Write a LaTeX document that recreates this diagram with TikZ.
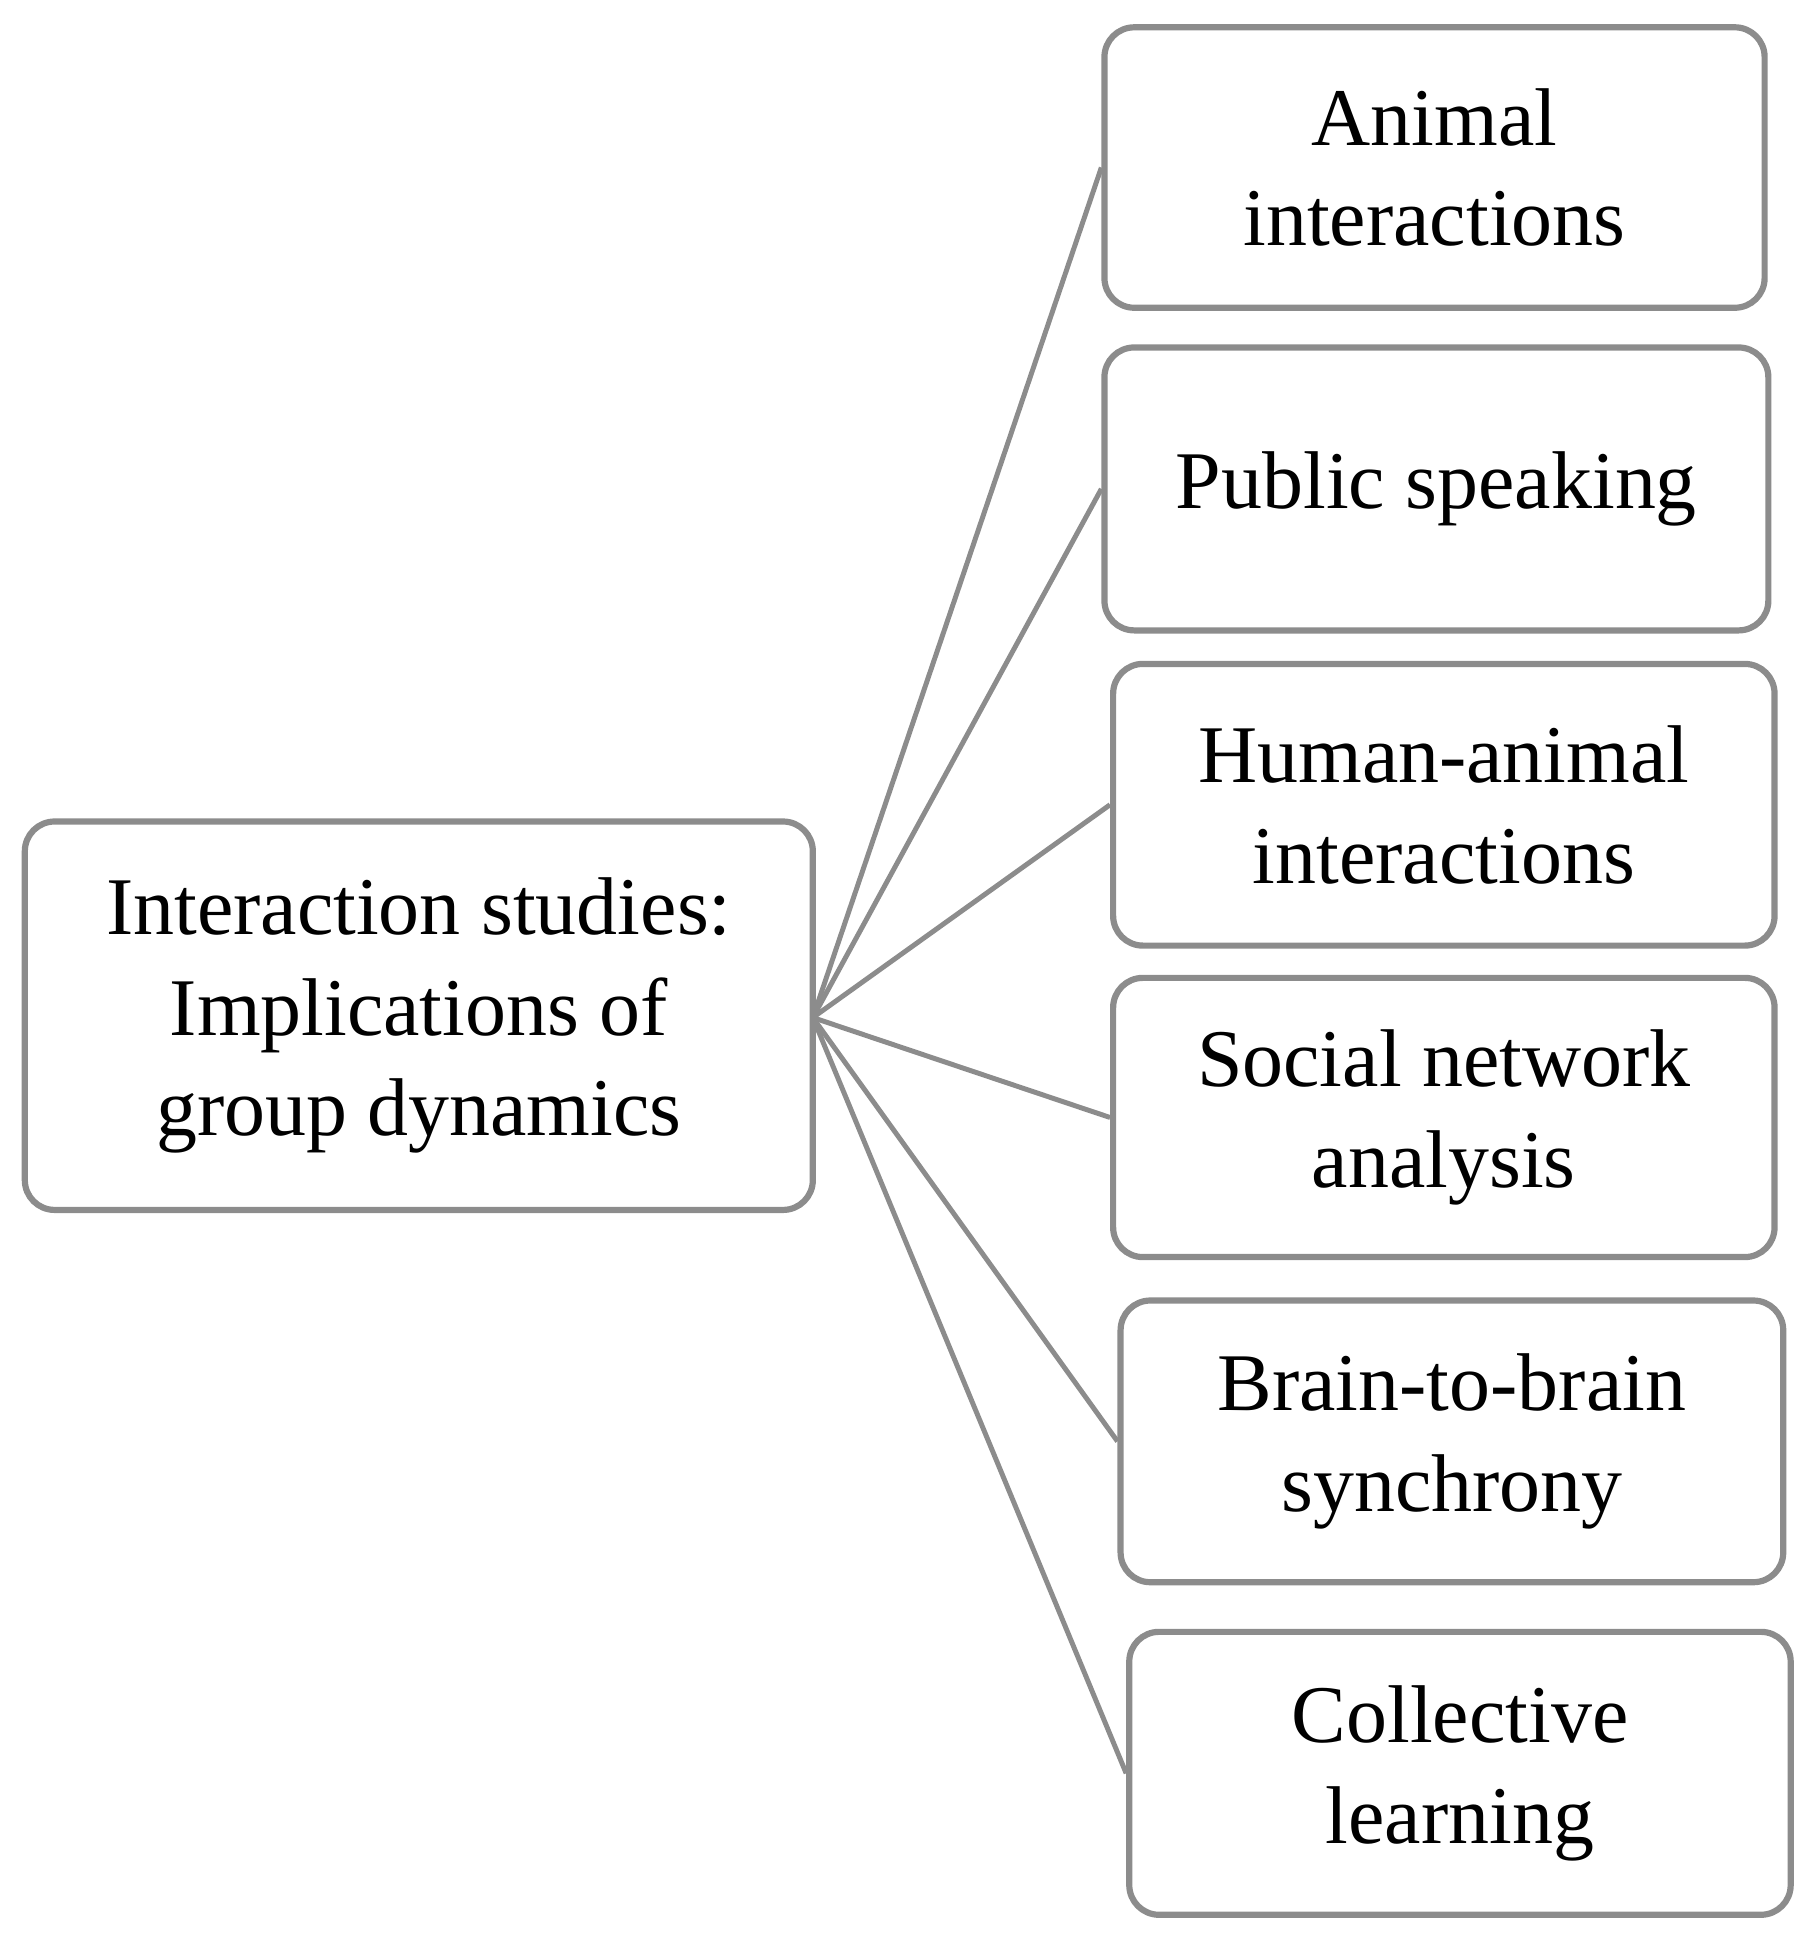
\documentclass[tikz,border=0pt]{standalone}
\usepackage{fontspec}
\setmainfont{Liberation Serif}
\begin{document}
\begin{tikzpicture}[x=1pt,y=-1pt,
  bx/.style={draw=black!45,line width=5pt,rounded corners=24pt,align=center,
    font=\fontsize{66}{81}\selectfont,inner sep=0pt},
  ln/.style={draw=black!45,line width=4pt}]
\useasboundingbox (0,0) rectangle (1465,1573);
\newcommand\bbox[6]{\node[bx,minimum width=#3-#1,minimum height=#4-#2] (#5) at ({(#1+#3)/2},{(#2+#4)/2}) {#6};}
\bbox{20}{662}{655}{975}{L}{Interaction studies:\\Implications of\\group dynamics}
\bbox{890}{22}{1422}{248}{a}{Animal\\interactions}
\bbox{890}{280}{1425}{508}{b}{Public speaking}
\bbox{897}{535}{1430}{762}{c}{Human-animal\\interactions}
\bbox{897}{788}{1430}{1013}{d}{Social network\\analysis}
\bbox{903}{1048}{1437}{1275}{e}{Brain-to-brain\\synchrony}
\bbox{910}{1315}{1443}{1543}{f}{Collective\\learning}
\coordinate (o) at (655,820);
\foreach \n in {a,b,c,d,e,f} \draw[ln] (o) -- (\n.west);
\end{tikzpicture}
\end{document}
